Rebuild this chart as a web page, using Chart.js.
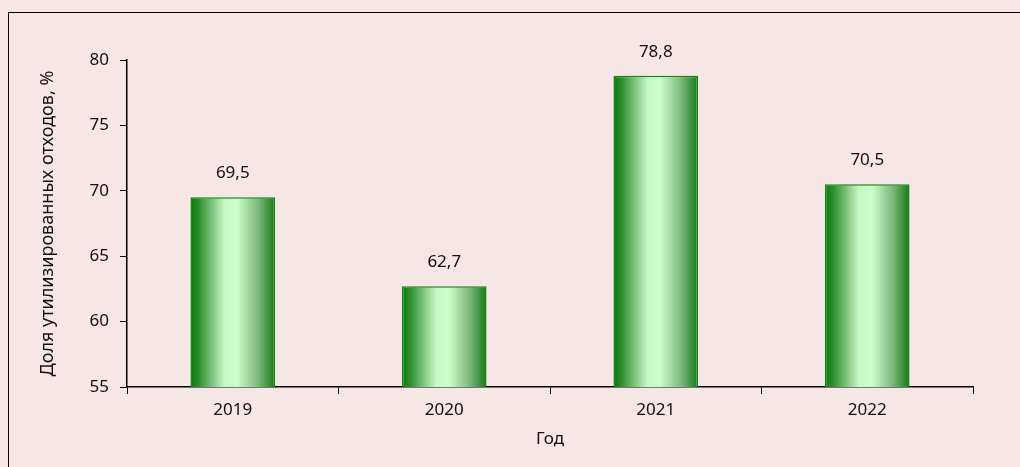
<!DOCTYPE html>
<html>
<head>
<meta charset="utf-8">
<script src="https://cdn.jsdelivr.net/npm/chart.js@4"></script>
<style>
  html, body { margin: 0; padding: 0; background: #f6e6e6; }
  #wrap { width: 1020px; height: 467px; }
</style>
</head>
<body>
<div id="wrap"><canvas id="myChart"></canvas></div>
<script>
const years = ['2019', '2020', '2021', '2022'];
const shares = [69.5, 62.7, 78.8, 70.5];
const yMin = 55, yMax = 80, yStep = 5;
const barPct = 0.4;

// pink page + frame
const framePlugin = {
  id: 'frame',
  beforeDraw(chart) {
    const c = chart.ctx;
    c.save();
    c.fillStyle = '#f6e6e6';
    c.fillRect(0, 0, chart.width, chart.height);
    c.strokeStyle = '#000';
    c.lineWidth = 1;
    c.strokeRect(8.5, 12.5, chart.width + 10, chart.height + 10);
    c.restore();
  }
};

// horizontal gradient per bar, worked out from the x scale
function barGradient(ctx) {
  const chart = ctx.chart;
  const xs = chart.scales.x;
  if (!xs || ctx.dataIndex === undefined) return '#7fd07f';
  const cx = xs.getPixelForValue(ctx.dataIndex);
  const w = (xs.width / years.length) * barPct;
  if (!isFinite(cx) || !isFinite(w) || w <= 0) return '#7fd07f';
  const g = chart.ctx.createLinearGradient(cx - w / 2, 0, cx + w / 2, 0);
  g.addColorStop(0, '#077a07');
  g.addColorStop(0.1, '#2f8f2f');
  g.addColorStop(0.4, '#c6f7c6');
  g.addColorStop(0.55, '#ccffcc');
  g.addColorStop(0.8, '#7cb87c');
  g.addColorStop(1, '#167a16');
  return g;
}

const labelPlugin = {
  id: 'valueLabels',
  afterDatasetsDraw(chart) {
    const c = chart.ctx;
    const meta = chart.getDatasetMeta(0);
    c.save();
    c.font = '17px "Noto Sans"';
    c.fillStyle = '#111';
    c.textAlign = 'center';
    c.textBaseline = 'middle';
    meta.data.forEach((bar, i) => {
      c.fillText(String(shares[i]).replace('.', ','), bar.x, bar.y - 24);
    });
    c.restore();
  }
};

const myChart = new Chart(document.getElementById('myChart'), {
  type: 'bar',
  data: {
    labels: years,
    datasets: [{
      data: shares,
      backgroundColor: barGradient,
      borderColor: '#0e870e',
      borderWidth: 1.5,
      categoryPercentage: 1,
      barPercentage: barPct
    }]
  },
  options: {
    responsive: true,
    maintainAspectRatio: false,
    animation: false,
    layout: { padding: { left: 0, right: 47, top: 60, bottom: 0 } },
    plugins: { legend: { display: false }, tooltip: { enabled: false } },
    scales: {
      x: {
        grid: { offset: true, drawOnChartArea: false, tickLength: 7, color: '#000' },
        border: { color: '#000', width: 1.5 },
        ticks: { color: '#111', font: { family: 'Noto Sans', size: 17 }, padding: 6 },
        title: { display: true, text: 'Год', color: '#111', font: { family: 'Noto Sans', size: 17 }, padding: { top: 18, bottom: 18 } },
        afterFit(s) { s.height = 80; }
      },
      y: {
        min: yMin, max: yMax,
        grid: { drawOnChartArea: false, tickLength: 7, color: '#000' },
        border: { color: '#000', width: 1.5 },
        ticks: { stepSize: yStep, color: '#111', font: { family: 'Noto Sans', size: 17 }, padding: 11 },
        title: { display: true, text: 'Доля утилизированных отходов, %', color: '#111', font: { family: 'Noto Sans', size: 18 }, padding: { top: 37, bottom: 37 } },
        afterFit(s) { s.width = 127; }
      }
    }
  },
  plugins: [framePlugin, labelPlugin]
});
</script>
</body>
</html>
